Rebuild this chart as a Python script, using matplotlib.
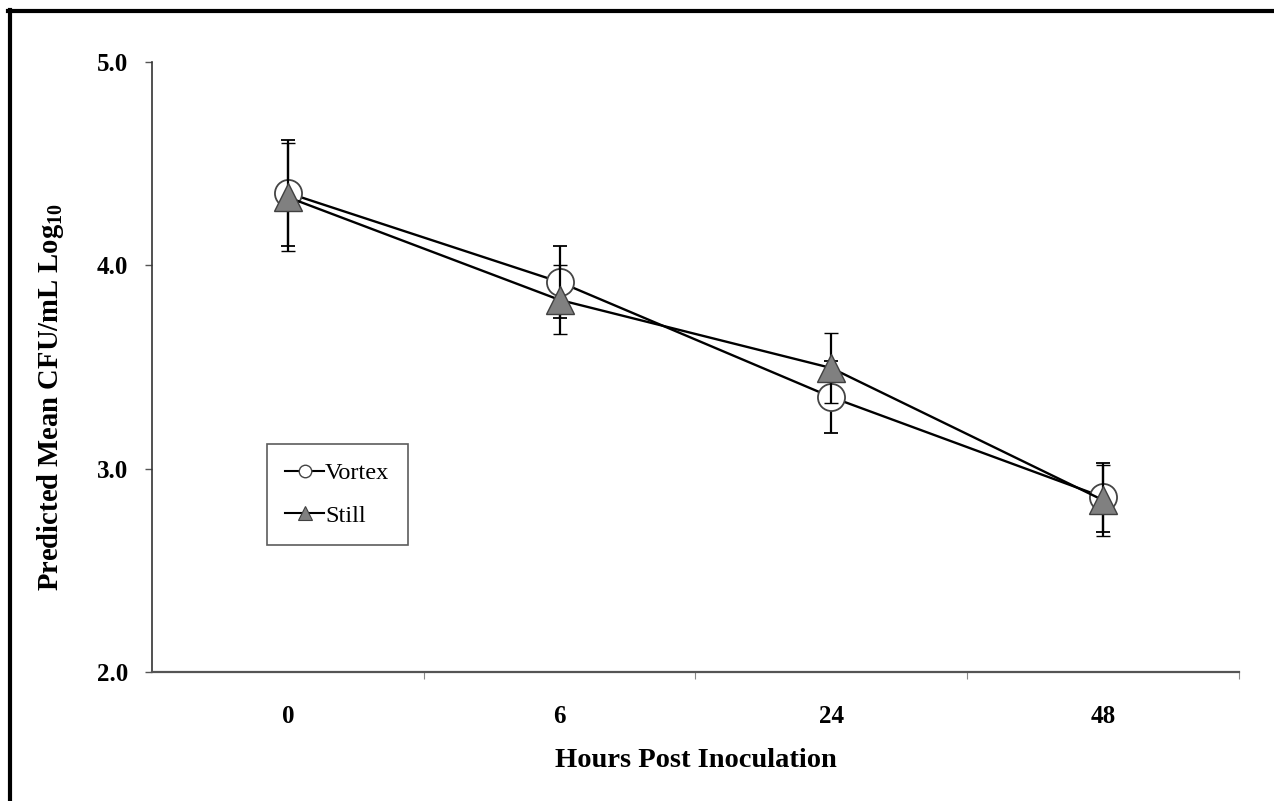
import matplotlib
matplotlib.use("Agg")
import matplotlib.pyplot as plt
from matplotlib.lines import Line2D

plt.rcParams['font.family'] = ['Liberation Serif', 'DejaVu Serif']
plt.rcParams['mathtext.fontset'] = 'custom'
plt.rcParams['mathtext.rm'] = 'Liberation Serif'
plt.rcParams['mathtext.bf'] = 'Liberation Serif:bold'

# 数据
hours = ['0', '6', '24', '48']
vortex_mean = [4.356, 3.918, 3.352, 2.86]
vortex_err = [0.26, 0.177, 0.177, 0.17]
still_mean = [4.335, 3.83, 3.495, 2.845]
still_err = [0.265, 0.17, 0.17, 0.175]

fig = plt.figure(figsize=(12.74, 8.01), dpi=100)
ax = fig.add_axes([0.1193, 0.161, 0.8532, 0.7616])

x = list(range(len(hours)))

# Vortex：白色圆圈
ax.errorbar(x, vortex_mean, yerr=vortex_err, color='black', linewidth=1.7,
            elinewidth=1.6, capsize=5, capthick=1.4,
            marker='o', markersize=19.5, markerfacecolor='white',
            markeredgecolor='#444444', markeredgewidth=1.3, zorder=3)
# Still：灰色三角
ax.errorbar(x, still_mean, yerr=still_err, color='black', linewidth=1.7,
            elinewidth=1.6, capsize=5, capthick=1.4,
            marker='^', markersize=20.5, markerfacecolor='#808080',
            markeredgecolor='#404040', markeredgewidth=1.0, zorder=4)

ax.set_xlim(-0.5, 3.5)
ax.set_ylim(2.0, 5.0)
ax.set_yticks([2.0, 3.0, 4.0, 5.0])
ax.set_yticklabels(['2.0', '3.0', '4.0', '5.0'], fontsize=18, fontweight='bold')
ax.set_xticks(x)
ax.set_xticklabels(hours, fontsize=18, fontweight='bold')
ax.tick_params(axis='x', length=0, pad=24)
ax.set_xticks([0.5, 1.5, 2.5, 3.5], minor=True)
ax.tick_params(axis='x', which='minor', length=5, width=0.8, color='#888888', direction='out')
ax.tick_params(axis='y', length=5, width=1.0, color='#555555', pad=12)

for side in ['top', 'right']:
    ax.spines[side].set_visible(False)
ax.spines['left'].set_color('#333333')
ax.spines['bottom'].set_color('#555555')
ax.spines['left'].set_linewidth(1.2)
ax.spines['bottom'].set_linewidth(1.6)

ax.set_xlabel('Hours Post Inoculation', fontsize=20.5, fontweight='bold', labelpad=14)
ax.set_ylabel(r'Predicted Mean CFU/mL Log$_{\mathbf{10}}$', fontsize=20.6, fontweight='bold')
ax.yaxis.set_label_coords(-0.079, 0.451)

# 图例（无误差线）
h_vortex = Line2D([], [], color='black', linewidth=1.5, marker='o', markersize=9,
                  markerfacecolor='white', markeredgecolor='#444444', markeredgewidth=1.0)
h_still = Line2D([], [], color='black', linewidth=1.5, marker='^', markersize=10,
                 markerfacecolor='#808080', markeredgecolor='#404040', markeredgewidth=0.8)
leg = ax.legend([h_vortex, h_still], ['Vortex', 'Still'],
                loc='upper left', bbox_to_anchor=(0.1057, 0.374), frameon=True,
                fancybox=False, edgecolor='#333333', fontsize=17.5,
                handlelength=1.6, handletextpad=0.05, labelspacing=0.85,
                borderpad=0.75, borderaxespad=0)
leg.get_frame().set_linewidth(1.2)

# 外框（左和上）
fig.add_artist(Line2D([9.5 / 1274, 9.5 / 1274], [0, 1 - 9.5 / 801], color='black', linewidth=3.0))
fig.add_artist(Line2D([8 / 1274, 1.0], [1 - 10.5 / 801, 1 - 10.5 / 801], color='black', linewidth=3.0))

plt.savefig('out.png', dpi=100)
